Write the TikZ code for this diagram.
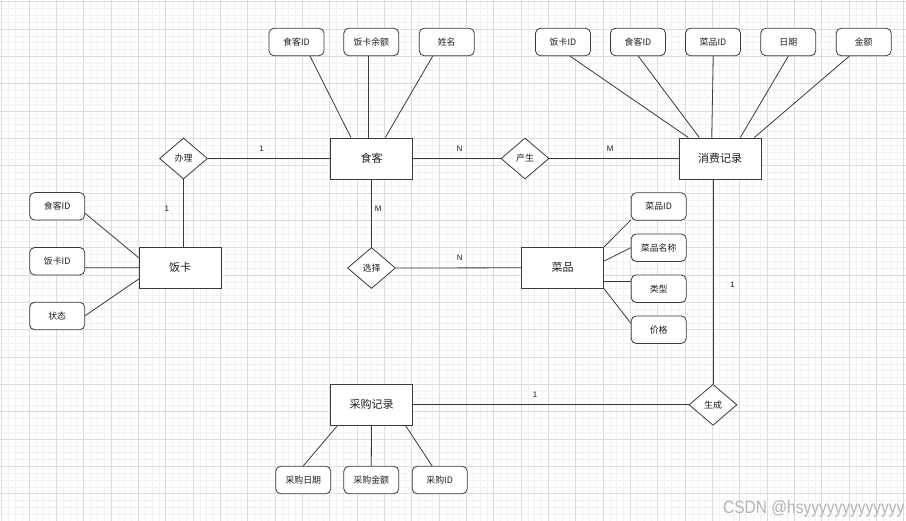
\documentclass[tikz,border=0pt]{standalone}
\usepackage{fontspec}
\setmainfont{Noto Sans CJK SC}
\newfontfamily\latinsans{Liberation Sans}
\usetikzlibrary{shapes.geometric,calc}
\definecolor{minorc}{HTML}{F2F2F2}
\definecolor{majorc}{HTML}{DCDCDC}
\definecolor{linec}{HTML}{3A3A3A}
\definecolor{txtc}{HTML}{1E1E1E}
\definecolor{wmc}{HTML}{B4B4B4}
\tikzset{
  minorgrid/.style={draw=minorc,line width=0.6pt},
  majorgrid/.style={draw=majorc,line width=0.9pt},
  entity/.style={draw=linec,line width=0.9pt,fill=white,rectangle,minimum width=82pt,minimum height=41pt,inner sep=0pt,font=\fontsize{11}{13}\selectfont,text=txtc},
  attr/.style={draw=linec,line width=0.8pt,fill=white,rectangle,rounded corners=5pt,minimum width=55pt,minimum height=27.5pt,inner sep=0pt,font=\fontsize{8.9}{10}\selectfont,text=txtc},
  rel/.style={draw=linec,line width=0.8pt,fill=white,diamond,minimum width=48pt,minimum height=41pt,inner sep=0pt,font=\fontsize{8.9}{10}\selectfont,text=txtc},
  conn/.style={draw=linec,line width=0.8pt},
  lbl/.style={inner sep=0pt,font=\latinsans\fontsize{8}{9}\selectfont,text=txtc},
}
\begin{document}
\begin{tikzpicture}[x=1pt,y=-1pt]
\useasboundingbox (0,0) rectangle (906,521);
\fill[white] (0,0) rectangle (906,521);
% grid
\foreach \i in {0,...,133} \draw[minorgrid] ({1.7+\i*6.8333},0) -- ++(0,521);
\foreach \i in {0,...,76} \draw[minorgrid] (0,{1.7+\i*6.8333}) -- ++(906,0);
\foreach \i in {0,...,33} \draw[majorgrid] ({1.7+\i*27.333},0) -- ++(0,521);
\foreach \i in {0,...,19} \draw[majorgrid] (0,{1.7+\i*27.333}) -- ++(906,0);

% entities
\node[entity] (sk) at (371.5,158.5) {食客};
\node[entity] (xf) at (720,158.5) {消费记录};
\node[entity] (fk) at (180.2,267.8) {饭卡};
\node[entity] (cp) at (562.7,267.8) {菜品};
\node[entity] (cg) at (371.5,404.8) {采购记录};

% relationships
\node[rel] (bl) at (183.5,158.5) {办理};
\node[rel] (cs) at (525,158.5) {产生};
\node[rel] (xz) at (371.5,268) {选择};
\node[rel] (sc) at (713,404.8) {生成};

% attributes
\node[attr] (a1) at (296.5,42) {食客ID};
\node[attr] (a2) at (371.3,42) {饭卡余额};
\node[attr] (a3) at (446.7,42) {姓名};
\node[attr] (b1) at (563,42) {饭卡ID};
\node[attr] (b2) at (638,42) {食客ID};
\node[attr] (b3) at (713,42) {菜品ID};
\node[attr] (b4) at (788.3,42) {日期};
\node[attr] (b5) at (863.7,42) {金额};
\node[attr] (c1) at (57.2,206.3) {食客ID};
\node[attr] (c2) at (57.2,261.2) {饭卡ID};
\node[attr] (c3) at (57.2,316) {状态};
\node[attr] (d1) at (658.7,206.5) {菜品ID};
\node[attr] (d2) at (658.7,247.7) {菜品名称};
\node[attr] (d3) at (658.7,288.7) {类型};
\node[attr] (d4) at (658.7,329.7) {价格};
\node[attr] (e1) at (303.3,480) {采购日期};
\node[attr] (e2) at (371.3,480) {采购金额};
\node[attr] (e3) at (439.7,480) {采购ID};

% attribute connectors
\draw[conn] ([xshift=13.5pt]a1.south) -- ([xshift=-20.5pt]sk.north);
\draw[conn] ([xshift=-3.3pt]a2.south) -- ([xshift=-3.5pt]sk.north);
\draw[conn] ([xshift=-14pt]a3.south) -- ([xshift=13.8pt]sk.north);
\draw[conn] ([xshift=7pt]b1.south) -- ([xshift=-31.7pt]xf.north);
\draw[conn] ([xshift=0.3pt]b2.south) -- ([xshift=-20.7pt]xf.north);
\draw[conn] ([xshift=0.3pt]b3.south) -- ([xshift=-8.3pt]xf.north);
\draw[conn] (b4.south) -- ([xshift=20.3pt]xf.north);
\draw[conn] ([xshift=-14.4pt]b5.south) -- ([xshift=34.3pt]xf.north);
\draw[conn] ([yshift=-7pt]c1.east) -- ([yshift=10pt]fk.west);
\draw[conn] ([yshift=-6.5pt]c2.east) -- (fk.west);
\draw[conn] ([yshift=0.3pt]c3.east) -- ([yshift=-11.2pt]fk.west);
\draw[conn] ([yshift=-13.5pt]d1.west) -- (cp.north east);
\draw[conn] (d2.west) -- ([yshift=6.8pt]cp.east);
\draw[conn] ([yshift=7.7pt]d3.west) -- ([yshift=-13.2pt]cp.east);
\draw[conn] ([yshift=6.4pt]d4.west) -- (cp.south east);
\draw[conn] (e1.north) -- ([xshift=-34.2pt]cg.south);
\draw[conn] (e2.north) -- (cg.south);
\draw[conn] ([xshift=-7.7pt]e3.north) -- ([xshift=34.2pt]cg.south);

% relationship connectors
\draw[conn] (bl.east) -- node[lbl,pos=0.44,above=7pt]{1} (sk.west);
\draw[conn] (bl.south) -- node[lbl,pos=0.44,left=14pt]{1} (bl.south |- fk.north);
\draw[conn] (sk.east) -- node[lbl,pos=0.53,above=7pt]{N} (cs.west);
\draw[conn] (cs.east) -- node[lbl,pos=0.47,above=7pt]{M} (xf.west);
\draw[conn] (sk.south) -- node[lbl,pos=0.44,right=3pt]{M} (xz.north);
\draw[conn] (xz.east) -- node[lbl,pos=0.51,above=7pt]{N} (cp.west);
\draw[conn] (sc.north |- xf.south) -- node[lbl,pos=0.516,right=17pt]{1} (sc.north);
\draw[conn] (cg.east) -- node[lbl,pos=0.443,above=7pt]{1} (sc.west);

% watermark
\node[anchor=base west,inner sep=0pt,text=wmc,yscale=1.15,font=\latinsans\fontsize{15.5}{17}\selectfont] (wm) at (723,513.5) {CSDN @hsyyyyyyyyyyyyy};
\end{tikzpicture}
\end{document}
